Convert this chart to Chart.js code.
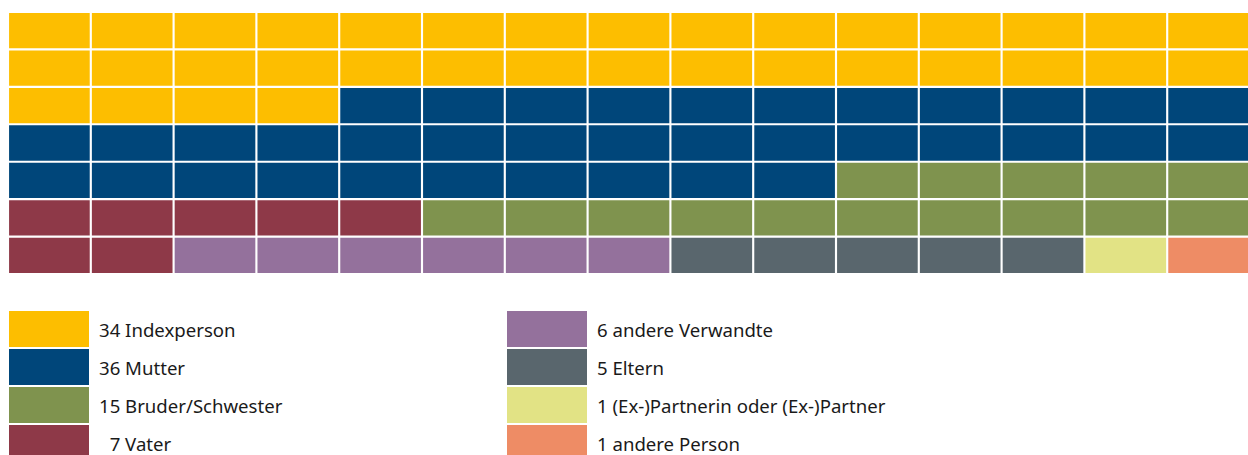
<!DOCTYPE html>
<html>
<head>
<meta charset="utf-8">
<script src="https://cdn.jsdelivr.net/npm/chart.js@4"></script>
<style>
  html, body { margin: 0; padding: 0; background: #fff; }
  body { width: 1248px; height: 455px; position: relative; overflow: hidden; font-family: "Noto Sans", sans-serif; }
  #wrap { position: absolute; left: 7.5px; top: 11.5px; width: 1242px; height: 262px; }
  .lg { position: absolute; }
  .box { position: absolute; width: 80px; height: 36px; }
  .txt { position: absolute; font-size: 18.6px; color: #1a1a1a; line-height: 38px; white-space: pre; }
</style>
</head>
<body>
<div id="wrap"><canvas id="c"></canvas></div>
<div id="legend"></div>
<script>
// Categories and counts (out of 105)
const labels = ["Indexperson", "Mutter", "Bruder/Schwester", "Vater", "andere Verwandte", "Eltern", "(Ex-)Partnerin oder (Ex-)Partner", "andere Person"];
const counts = [34, 36, 15, 7, 6, 5, 1, 1];
const colors = ["#FDBE00", "#00467A", "#7F934E", "#8E3948", "#94719C", "#59666D", "#E2E385", "#EE8C65"];
// Waffle layout: each row as runs of [category index, number of cells]
const rowRuns = [
  [[0, 15]],
  [[0, 15]],
  [[0, 4], [1, 11]],
  [[1, 15]],
  [[1, 10], [2, 5]],
  [[3, 5], [2, 10]],
  [[3, 2], [4, 6], [5, 5], [6, 1], [7, 1]]
];
const nCols = 15;
const rowNames = rowRuns.map((_, i) => "R" + (i + 1));

// Expand runs into a cell grid
const grid = rowRuns.map(runs => {
  const r = [];
  runs.forEach(([cat, n]) => { for (let k = 0; k < n; k++) r.push(cat); });
  return r;
});

const datasets = [];
for (let c = 0; c < nCols; c++) {
  datasets.push({
    data: grid.map(() => 1),
    backgroundColor: grid.map(r => colors[r[c]]),
    borderColor: "#ffffff",
    borderWidth: 1.4,
    borderSkipped: false,
    barPercentage: 1,
    categoryPercentage: 1
  });
}

new Chart(document.getElementById("c"), {
  type: "bar",
  data: { labels: rowNames, datasets },
  options: {
    indexAxis: "y",
    responsive: true,
    maintainAspectRatio: false,
    animation: false,
    layout: { padding: 0 },
    plugins: { legend: { display: false }, tooltip: { enabled: false } },
    scales: {
      x: { stacked: true, min: 0, max: nCols, display: false },
      y: { stacked: true, display: false }
    }
  }
});

// Legend in two columns of four
const lg = document.getElementById("legend");
labels.forEach((lab, i) => {
  const col = Math.floor(i / 4), row = i % 4;
  const left = col === 0 ? 9 : 507;
  const top = 311 + row * 38;
  const b = document.createElement("div");
  b.className = "box";
  b.style.left = left + "px"; b.style.top = top + "px";
  b.style.background = colors[i];
  lg.appendChild(b);
  const t = document.createElement("div");
  t.className = "txt";
  t.style.left = (left + 90) + "px"; t.style.top = top + "px";
  const num = String(counts[i]);
  const pad = (col === 0 && num.length < 2) ? "\u2007" : "";
  t.textContent = pad + num + " " + lab;
  lg.appendChild(t);
});
</script>
</body>
</html>
